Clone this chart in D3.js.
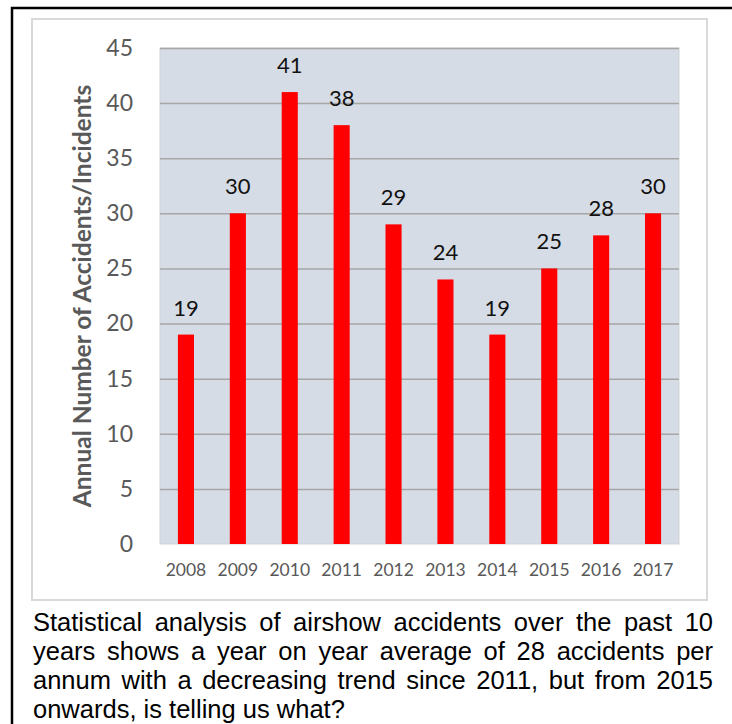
<!DOCTYPE html>
<html>
<head>
<meta charset="utf-8">
<script src="https://cdn.jsdelivr.net/npm/d3@7"></script>
<style>
  html, body { margin: 0; padding: 0; background: #fff; }
  svg { display: block; }
</style>
</head>
<body>
<svg id="chart" width="732" height="724"></svg>
<script>
// chart data
const years = ['2008', '2009', '2010', '2011', '2012', '2013', '2014', '2015', '2016', '2017'];
const accidents = [19, 30, 41, 38, 29, 24, 19, 25, 28, 30];
const yTicks = [0, 5, 10, 15, 20, 25, 30, 35, 40, 45];
const yTitle = 'Annual Number of Accidents/Incidents';
const captionLines = [
  'Statistical analysis of airshow accidents over the past 10',
  'years shows a year on year average of 28 accidents per',
  'annum with a decreasing trend since 2011, but from 2015',
  'onwards, is telling us what?'
];

const svg = d3.select('#chart');
const font = 'Lato, "Open Sans", sans-serif';

// plot area box
const plot = { left: 160, top: 48, right: 679, bottom: 544 };

// outer black frame (runs off the right and bottom edge)
svg.append('rect')
  .attr('x', 12).attr('y', 8)
  .attr('width', 760).attr('height', 760)
  .attr('fill', 'none')
  .attr('stroke', '#000')
  .attr('stroke-width', 2.5);

// chart object box
svg.append('rect')
  .attr('x', 32).attr('y', 19)
  .attr('width', 675).attr('height', 581)
  .attr('fill', '#fff')
  .attr('stroke', '#d9d9d9')
  .attr('stroke-width', 2);

const x = d3.scaleBand()
  .domain(years)
  .range([plot.left, plot.right])
  .paddingInner(0.69)
  .paddingOuter(0.345);

const y = d3.scaleLinear()
  .domain([0, 45])
  .range([plot.bottom, plot.top]);

// plot background
svg.append('rect')
  .attr('x', plot.left).attr('y', plot.top)
  .attr('width', plot.right - plot.left)
  .attr('height', plot.bottom - plot.top)
  .attr('fill', '#d6dce5')
  .attr('stroke', '#cfd3d8')
  .attr('stroke-width', 1);

// gridlines + y tick labels
const yAxis = svg.append('g')
  .attr('transform', 'translate(' + plot.left + ',0)')
  .call(d3.axisLeft(y).tickValues(yTicks).tickSize(-(plot.right - plot.left)).tickPadding(27));
yAxis.select('.domain').remove();
yAxis.selectAll('.tick line')
  .attr('stroke', d => d === 0 ? 'none' : '#a6a6a6')
  .attr('stroke-width', 1.5);
yAxis.selectAll('.tick text')
  .attr('fill', '#595959')
  .style('font-family', font)
  .style('font-size', '23px');

// x axis labels
const xAxis = svg.append('g')
  .attr('transform', 'translate(0,' + plot.bottom + ')')
  .call(d3.axisBottom(x).tickSize(0).tickPadding(20));
xAxis.select('.domain').remove();
xAxis.selectAll('.tick text')
  .attr('fill', '#595959')
  .style('font-family', font)
  .style('font-size', '17.5px');

// bars
svg.selectAll('.bar')
  .data(accidents)
  .enter()
  .append('rect')
  .attr('class', 'bar')
  .attr('x', (d, i) => x(years[i]))
  .attr('y', d => y(d))
  .attr('width', x.bandwidth())
  .attr('height', d => plot.bottom - y(d))
  .attr('fill', '#ff0000');

// value labels
svg.selectAll('.val')
  .data(accidents)
  .enter()
  .append('text')
  .attr('class', 'val')
  .attr('x', (d, i) => x(years[i]) + x.bandwidth() / 2)
  .attr('y', d => y(d) - 19)
  .attr('text-anchor', 'middle')
  .attr('fill', '#111')
  .style('font-family', font)
  .style('font-size', '22px')
  .text(d => d);

// y axis title
svg.append('text')
  .attr('transform', 'translate(91,' + ((plot.top + plot.bottom) / 2) + ') rotate(-90)')
  .attr('text-anchor', 'middle')
  .attr('fill', '#595959')
  .style('font-family', font)
  .style('font-weight', 'bold')
  .style('font-size', '24.5px')
  .text(yTitle);

// caption, justified except last line
const capLeft = 33, capWidth = 680;
captionLines.forEach((line, i) => {
  const t = svg.append('text')
    .attr('x', capLeft)
    .attr('y', 631 + i * 29)
    .attr('fill', '#000')
    .style('font-family', '"Liberation Sans", Arial, sans-serif')
    .style('font-size', '25.5px')
    .text(line);
  if (i < captionLines.length - 1) {
    const w = t.node().getComputedTextLength();
    const gaps = line.split(' ').length - 1;
    t.style('word-spacing', ((capWidth - w) / gaps) + 'px');
  }
});
</script>
</body>
</html>
